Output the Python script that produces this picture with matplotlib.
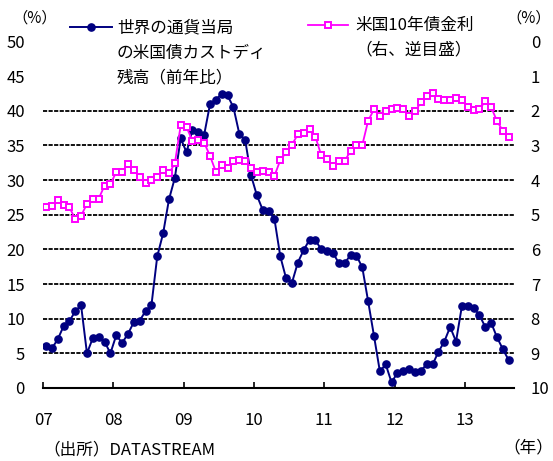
import numpy as np
import matplotlib.pyplot as plt
from matplotlib.lines import Line2D

plt.rcParams['font.family'] = ['Noto Sans CJK JP', 'DejaVu Sans']
plt.rcParams['lines.scale_dashes'] = False

years = ['07', '08', '09', '10', '11', '12', '13']

# 世界の通貨当局の米国債カストディ残高(前年比, %) 2007/1 - 2013/8
custody = [6.1, 5.7, 7.0, 8.9, 9.6, 11.1, 11.9, 5.0, 7.2, 7.4, 6.7, 5.0,
           7.6, 6.5, 7.8, 9.5, 9.7, 11.1, 11.9, 19.0, 22.3, 27.2, 30.3, 36.0,
           34.0, 37.2, 36.9, 36.5, 40.9, 41.6, 42.4, 42.2, 40.5, 36.7, 35.8, 30.7,
           27.8, 25.7, 25.5, 24.4, 19.0, 15.8, 15.2, 18.1, 19.9, 21.4, 21.3, 20.0,
           19.8, 19.5, 18.0, 18.0, 19.2, 19.1, 17.4, 12.5, 7.5, 2.4, 3.4, 0.8,
           2.2, 2.5, 2.8, 2.3, 2.5, 3.4, 3.4, 5.2, 6.7, 8.8, 6.7, 11.8,
           11.8, 11.6, 10.5, 8.8, 9.4, 7.3, 5.6, 4.0]

# 米国10年債金利(%, 右軸・逆目盛)
yield10 = [4.79, 4.75, 4.58, 4.72, 4.79, 5.12, 5.03, 4.69, 4.54, 4.54, 4.16, 4.12,
           3.77, 3.77, 3.53, 3.70, 3.90, 4.10, 4.00, 3.91, 3.71, 3.81, 3.52, 2.42,
           2.48, 2.86, 2.85, 2.92, 3.30, 3.76, 3.58, 3.64, 3.45, 3.43, 3.46, 3.64,
           3.77, 3.75, 3.77, 3.88, 3.43, 3.20, 2.98, 2.68, 2.65, 2.52, 2.75, 3.29,
           3.40, 3.60, 3.44, 3.44, 3.17, 3.00, 2.99, 2.29, 1.96, 2.14, 2.00, 1.96,
           1.92, 1.94, 2.16, 2.02, 1.76, 1.58, 1.48, 1.65, 1.70, 1.70, 1.62, 1.70,
           1.88, 1.98, 1.95, 1.73, 1.90, 2.30, 2.58, 2.76]

months = np.arange(len(custody))
x = 2007 + (months + 0.5) / 12

navy = '#000080'
pink = '#FF00FF'

fig = plt.figure(figsize=(5.53, 4.61), dpi=100)
ax = fig.add_axes([0.0778, 0.1584, 0.8517, 0.7518])
ax2 = ax.twinx()

for v in range(5, 45, 5):
    ax.axhline(v, color='black', ls=(0, (3, 1)), lw=1.3, zorder=1)

ax.plot(x, custody, color=navy, lw=1.4, marker='o', ms=5.2, zorder=3)
ax2.plot(x, yield10, color=pink, lw=1.3, marker='s', ms=5,
         mfc='white', mec=pink, mew=1.4, zorder=3)

ax.set_xlim(2007, 2013.70)
ax.set_ylim(0, 50)
ax2.set_ylim(10, 0)

ax.set_yticks(range(0, 55, 5))
ax2.set_yticks(range(0, 11))
ax.set_xticks(range(2007, 2014))
ax.set_xticklabels(years)

ax.tick_params(axis='y', length=0, pad=13, labelsize=12)
ax2.tick_params(axis='y', length=0, pad=12, labelsize=12)
ax.tick_params(axis='x', direction='in', length=4, width=1.2, pad=17, labelsize=12)

for s in ['top', 'left', 'right']:
    ax.spines[s].set_visible(False)
for s in ax2.spines.values():
    s.set_visible(False)
ax.spines['bottom'].set_linewidth(1.5)


def fx(px):
    return px / 553


def fy(py):
    return 1 - py / 461


# legend
fig.add_artist(Line2D([fx(70), fx(112)], [fy(27), fy(27)], color=navy, lw=1.4))
fig.add_artist(Line2D([fx(91)], [fy(27)], color=navy, marker='o', ms=5.2))
fig.text(fx(117), fy(28), '世界の通貨当局', fontsize=12, va='center')
fig.text(fx(117), fy(53), 'の米国債カストディ', fontsize=12, va='center')
fig.text(fx(117), fy(78), '残高（前年比）', fontsize=12, va='center')

fig.add_artist(Line2D([fx(308), fx(348)], [fy(25), fy(25)], color=pink, lw=1.3))
fig.add_artist(Line2D([fx(328)], [fy(25)], color=pink, marker='s', ms=5,
                      mfc='white', mec=pink, mew=1.4))
fig.text(fx(355), fy(25), '米国10年債金利', fontsize=12, va='center')
fig.text(fx(355), fy(50), '（右、逆目盛）', fontsize=12, va='center')

fig.text(fx(35), fy(18), '（%）', fontsize=11, ha='center', va='center')
fig.text(fx(529), fy(18), '（%）', fontsize=11, ha='center', va='center')
fig.text(fx(43), fy(450), '（出所）DATASTREAM', fontsize=12, va='center')
fig.text(fx(528), fy(448), '（年）', fontsize=12, ha='center', va='center')

fig.savefig('out.png', dpi=100)
